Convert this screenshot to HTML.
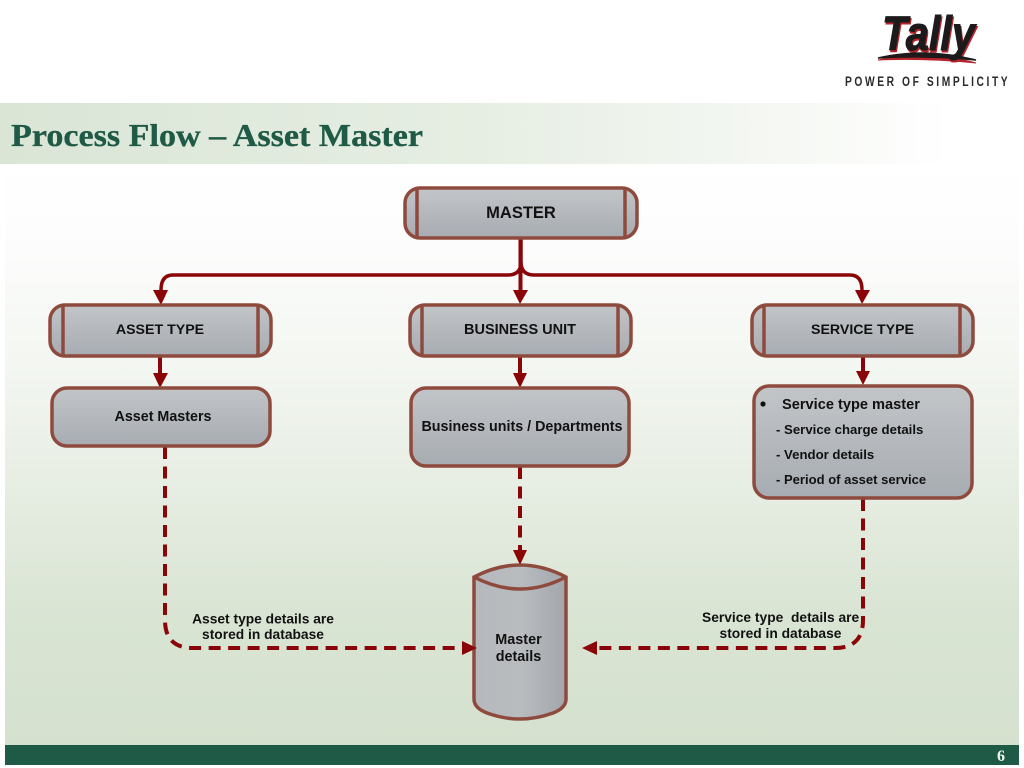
<!DOCTYPE html>
<html lang="en">
<head>
<meta charset="utf-8">
<title>Process Flow – Asset Master</title>
<style>
html,body{margin:0;padding:0;background:#fff;width:1024px;height:768px;overflow:hidden}
svg{display:block}
text{font-family:"Liberation Sans",sans-serif;font-weight:bold;fill:#111}
.box{fill:url(#boxGrad);stroke:#8f4a3e;stroke-width:3.5}
.bar{stroke:#8f4a3e;stroke-width:3.5;fill:none}
.line{stroke:#8a0508;stroke-width:3.5;fill:none}
.dash{stroke:#8a0508;stroke-width:4;fill:none;stroke-dasharray:12 7.5}
.head{fill:#8a0508}
</style>
</head>
<body>
<svg width="1024" height="768" viewBox="0 0 1024 768" xmlns="http://www.w3.org/2000/svg">
<defs>
<linearGradient id="bg" x1="0" y1="0" x2="0" y2="1">
<stop offset="0" stop-color="#ffffff"/>
<stop offset="0.12" stop-color="#fdfdfd"/>
<stop offset="0.35" stop-color="#f3f6f1"/>
<stop offset="0.78" stop-color="#d9e4d3"/>
<stop offset="1" stop-color="#d5e1ce"/>
</linearGradient>
<linearGradient id="band" x1="0" y1="0" x2="1" y2="0">
<stop offset="0" stop-color="#dae5d6"/>
<stop offset="0.5" stop-color="#e6eee3"/>
<stop offset="0.8" stop-color="#f4f7f2"/>
<stop offset="1" stop-color="#ffffff"/>
</linearGradient>
<linearGradient id="boxGrad" x1="0" y1="0" x2="0" y2="1">
<stop offset="0" stop-color="#c2c5c8"/>
<stop offset="1" stop-color="#a7acb2"/>
</linearGradient>
<linearGradient id="cylGrad" x1="0" y1="0" x2="1" y2="0">
<stop offset="0" stop-color="#b5b8bc"/>
<stop offset="0.5" stop-color="#b9bcbf"/>
<stop offset="1" stop-color="#a2a7ad"/>
</linearGradient>
</defs>

<rect x="5" y="164" width="1014" height="581" fill="url(#bg)"/>
<rect x="0" y="103" width="950" height="61" fill="url(#band)"/>
<rect x="5" y="745" width="1014" height="20" fill="#1f5a47"/>

<text x="11" y="146" style="font-family:'Liberation Serif',serif;font-size:31.5px;fill:#1f5a47;stroke:#1f5a47;stroke-width:.3" textLength="412" lengthAdjust="spacingAndGlyphs">Process Flow – Asset Master</text>
<text x="1001" y="761" text-anchor="middle" style="font-family:'Liberation Serif',serif;font-size:16px;fill:#f2f5ef">6</text>

<!-- Logo -->
<g>
<text x="883" y="52" style="font-style:italic;font-size:48px;fill:#b5242c;stroke:#b5242c;stroke-width:1" textLength="93" lengthAdjust="spacingAndGlyphs">Tally</text>
<path d="M878 60 Q925 49 976 63 Q925 58 878 60 Z" fill="#b5242c" stroke="#b5242c" stroke-width="1"/>
<text x="882" y="50" style="font-style:italic;font-size:48px;fill:#1c1a1a;stroke:#1c1a1a;stroke-width:1" textLength="93" lengthAdjust="spacingAndGlyphs">Tally</text>
<path d="M878 58 Q925 47 976 60 Q925 55 878 58 Z" fill="#1c1a1a" stroke="#1c1a1a" stroke-width="1.500"/>
<text transform="translate(845,86) scale(.76,1)" x="0" y="0" style="font-size:13.500px;fill:#2b2b2b" textLength="214" lengthAdjust="spacing">POWER OF SIMPLICITY</text>
</g>

<!-- Solid connectors -->
<path class="line" d="M521 238 V262 Q521 275 508 275 H173 Q161 275 161 290"/>
<path class="line" d="M521 262 Q521 275 534 275 H850 Q862 275 862 290"/>
<path class="line" d="M520.500 238 V292" style="stroke-width:4"/>
<path class="line" d="M160 356 V375" style="stroke-width:4"/>
<path class="line" d="M520 356 V375" style="stroke-width:4"/>
<path class="line" d="M863 356 V372" style="stroke-width:4"/>
<polygon class="head" points="153,290 168,290 161,305"/>
<polygon class="head" points="513,290 528,290 520,304"/>
<polygon class="head" points="855,290 870,290 862,304"/>
<polygon class="head" points="153,373 168,373 160,388"/>
<polygon class="head" points="513,373 527,373 520,388"/>
<polygon class="head" points="856,371 870,371 863,385"/>

<!-- Dashed connectors -->
<path class="dash" d="M165 447 V620 Q165 648 193 648 H465"/>
<path class="dash" d="M863 499 V620 Q863 648 835 648 H596"/>
<path class="dash" d="M520 467 V552"/>
<polygon class="head" points="513,550 527,550 520,565"/>

<!-- Header boxes -->
<rect class="box" x="405" y="188" width="232" height="50" rx="15"/>
<path class="bar" d="M417 188 V238 M625 188 V238"/>
<rect class="box" x="50" y="305" width="221" height="51" rx="15"/>
<path class="bar" d="M63 305 V356 M258 305 V356"/>
<rect class="box" x="410" y="305" width="221" height="51" rx="15"/>
<path class="bar" d="M422 305 V356 M618 305 V356"/>
<rect class="box" x="752" y="305" width="221" height="51" rx="15"/>
<path class="bar" d="M764 305 V356 M960 305 V356"/>

<!-- Detail boxes -->
<rect class="box" x="52" y="388" width="218" height="58" rx="15"/>
<rect class="box" x="411" y="388" width="218" height="78" rx="15"/>
<rect class="box" x="754" y="386" width="218" height="112" rx="15"/>

<!-- Cylinder -->
<path d="M474 577 Q520 553 566 577 V699 Q566 708 553 713 Q520 725 487 713 Q474 708 474 699 Z" fill="url(#cylGrad)" stroke="#8f4a3e" stroke-width="3.500"/>
<path d="M474 577 Q520 601 566 577" fill="none" stroke="#8f4a3e" stroke-width="3.500"/>
<polygon class="head" points="462,641 462,655 477,648"/>
<polygon class="head" points="597,641 597,655 582,648"/>

<!-- Labels -->
<text x="521" y="218" text-anchor="middle" style="font-size:16.500px">MASTER</text>
<text x="160" y="334" text-anchor="middle" style="font-size:14.200px">ASSET TYPE</text>
<text x="520" y="334" text-anchor="middle" style="font-size:14.500px">BUSINESS UNIT</text>
<text x="862.500" y="334" text-anchor="middle" style="font-size:14.200px">SERVICE TYPE</text>
<text x="163" y="421" text-anchor="middle" style="font-size:14.300px">Asset Masters</text>
<text x="522" y="431" text-anchor="middle" style="font-size:14.300px">Business units / Departments</text>
<circle cx="763" cy="404" r="2.600" fill="#111"/>
<text x="782" y="409" style="font-size:14.600px">Service type master</text>
<text x="776" y="434" style="font-size:13.200px">- Service charge details</text>
<text x="776" y="459" style="font-size:13.200px">- Vendor details</text>
<text x="776" y="484" style="font-size:13.050px">- Period of asset service</text>
<text x="518.500" y="644" text-anchor="middle" style="font-size:14.400px">Master</text>
<text x="518.500" y="661" text-anchor="middle" style="font-size:14.400px">details</text>
<text x="263" y="623.500" text-anchor="middle" style="font-size:13.800px">Asset type details are</text>
<text x="263" y="639" text-anchor="middle" style="font-size:13.800px">stored in database</text>
<text x="702" y="622" style="font-size:13.800px" xml:space="preserve">Service type  details are</text>
<text x="780.500" y="638" text-anchor="middle" style="font-size:13.800px">stored in database</text>
</svg>
</body>
</html>
